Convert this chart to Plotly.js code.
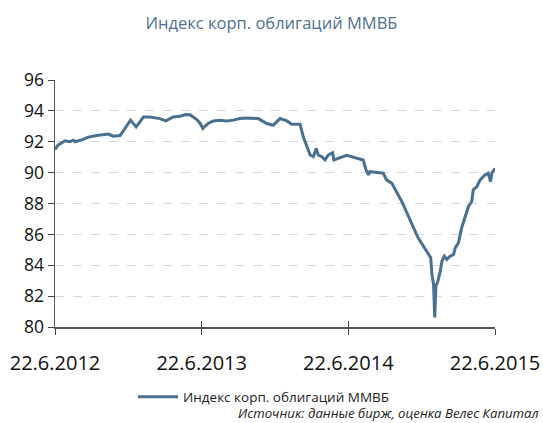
<!DOCTYPE html>
<html>
<head>
<meta charset="utf-8">
<script src="https://cdn.plot.ly/plotly-3.0.1.min.js"></script>
<style>
html,body{margin:0;padding:0;background:#fff;}
#chart{width:543px;height:423px;}
</style>
</head>
<body>
<div id="chart"></div>
<script>
const seriesName = "Индекс корп. облигаций ММВБ";
const dates = [
"2012-06-22","2012-06-30","2012-07-17","2012-07-29","2012-08-07","2012-08-11","2012-08-31","2012-09-13",
"2012-10-04","2012-11-02","2012-11-14","2012-12-01","2012-12-27","2013-01-10","2013-01-28","2013-02-13",
"2013-03-10","2013-03-25","2013-04-12","2013-04-29","2013-05-14","2013-05-24","2013-06-01","2013-06-10",
"2013-06-18","2013-06-25","2013-06-30","2013-07-09","2013-07-21","2013-08-07","2013-08-23","2013-09-09",
"2013-09-25","2013-10-12","2013-11-10","2013-12-01","2013-12-17","2014-01-03","2014-01-20","2014-02-01",
"2014-02-22","2014-03-02","2014-03-19","2014-03-27","2014-04-03","2014-04-08","2014-04-17","2014-04-25",
"2014-05-03","2014-05-14","2014-05-17","2014-06-09","2014-06-18","2014-07-29","2014-08-05","2014-08-11",
"2014-08-15","2014-09-17","2014-09-25","2014-10-08","2014-11-02","2014-12-09","2014-12-13","2015-01-13",
"2015-01-16","2015-01-20","2015-01-23","2015-01-26","2015-01-30","2015-02-06","2015-02-10","2015-02-16",
"2015-02-22","2015-03-02","2015-03-11","2015-03-15","2015-03-23","2015-03-31","2015-04-08","2015-04-17",
"2015-04-25","2015-04-29","2015-05-08","2015-05-16","2015-05-28","2015-06-05","2015-06-11","2015-06-14",
"2015-06-22"
];
const values = [
91.5,91.8,92.06,92.0,92.1,92.0,92.15,92.3,
92.4,92.5,92.36,92.4,93.4,92.96,93.6,93.6,
93.5,93.35,93.6,93.65,93.76,93.75,93.6,93.44,
93.2,92.86,93.0,93.2,93.35,93.4,93.35,93.4,
93.5,93.54,93.5,93.18,93.07,93.5,93.35,93.14,
93.14,92.3,91.14,91.03,91.57,91.14,91.03,90.82,
91.14,91.29,90.82,91.07,91.12,90.82,90.17,89.85,
90.06,89.96,89.53,89.32,88.13,85.99,85.77,84.49,
83.41,82.77,80.62,82.66,82.88,83.63,84.27,84.59,
84.38,84.59,84.7,85.13,85.45,86.42,87.06,87.81,
88.13,88.89,89.1,89.53,89.85,89.96,89.42,89.96,
90.28
];
const xTickVals = ["2012-06-22","2013-06-22","2014-06-22","2015-06-22"];
const xTickText = ["22.6.2012","22.6.2013","22.6.2014","22.6.2015"];
const yTickVals = [80,82,84,86,88,90,92,94,96];
const titleText = "Индекс корп. облигаций ММВБ";
const sourceText = "Источник: данные бирж, оценка Велес Капитал";

const lineColor = "#4a7090";
const font = "Open Sans, Noto Sans, sans-serif";

const traces = [{
  x: dates, y: values, type: "scatter", mode: "lines", name: seriesName,
  line: {color: lineColor, width: 3},
  showlegend: true
},{
  x: dates, y: values, type: "scatter", mode: "lines", xaxis: "x2",
  line: {color: "rgba(0,0,0,0)", width: 0}, showlegend: false, hoverinfo: "skip"
}];

const layout = {
  width: 543, height: 423,
  paper_bgcolor: "#fff", plot_bgcolor: "#fff",
  margin: {l: 55, r: 48, t: 80, b: 95, pad: 0},
  font: {family: font, color: "#222"},
  title: {text: titleText, x: 0.5, xanchor: "center", y: 0.944, yanchor: "middle",
          font: {family: font, size: 16.5, color: "#4f7091"}},
  xaxis: {
    type: "date", range: ["2012-06-22","2015-06-22"],
    tickvals: xTickVals, ticktext: xTickText,
    ticks: "outside", ticklen: 6, tickwidth: 1, tickcolor: "#444",
    showline: true, linecolor: "#555", linewidth: 1.5,
    showgrid: false, zeroline: false,
    ticklabelstandoff: 11,
    tickfont: {family: font, size: 20, color: "#111"},
    fixedrange: true
  },
  xaxis2: {
    type: "date", range: ["2012-06-22","2015-06-22"], overlaying: "x",
    tickvals: xTickVals, ticktext: ["","","",""],
    ticks: "inside", ticklen: 6, tickwidth: 1, tickcolor: "#444",
    showline: false, showgrid: false, zeroline: false, side: "bottom",
    showticklabels: false
  },
  yaxis: {
    range: [80, 96], tickvals: yTickVals,
    ticks: "outside", ticklen: 6, tickwidth: 1, tickcolor: "#444",
    showline: true, linecolor: "#555", linewidth: 1.5,
    showgrid: true, gridcolor: "#d3d9d9", gridwidth: 1, griddash: "dash",
    zeroline: false,
    tickfont: {family: font, size: 17.5, color: "#111"},
    fixedrange: true
  },
  showlegend: true,
  legend: {
    orientation: "h", x: 0.475, xanchor: "center", y: -0.278, yanchor: "middle",
    font: {family: font, size: 13.5, color: "#222"},
    bgcolor: "rgba(0,0,0,0)", itemwidth: 40
  },
  annotations: [{
    text: sourceText, xref: "paper", yref: "paper", x: 1.104, y: -0.347,
    xanchor: "right", yanchor: "middle", showarrow: false,
    font: {family: font, size: 13.2, color: "#222", style: "italic"}
  }]
};

Plotly.newPlot("chart", traces, layout, {displayModeBar: false, staticPlot: true});
</script>
</body>
</html>
